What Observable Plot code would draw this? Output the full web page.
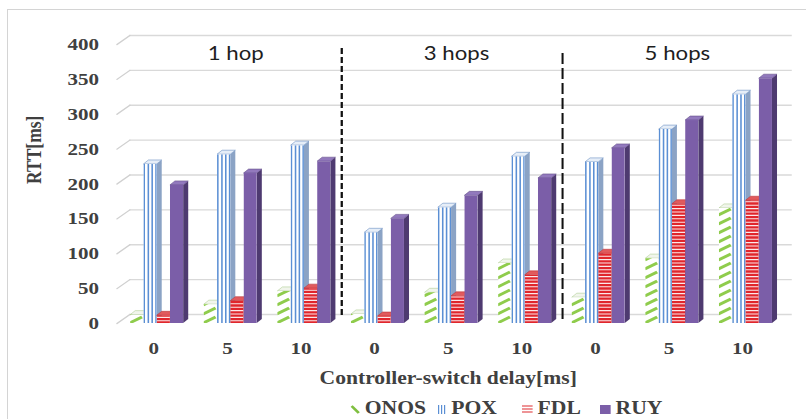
<!DOCTYPE html>
<html>
<head>
<meta charset="utf-8">
<script src="https://cdn.jsdelivr.net/npm/d3@7"></script>
<script src="https://cdn.jsdelivr.net/npm/@observablehq/plot@0.6"></script>
<style>
  html, body { margin: 0; padding: 0; background: #fff; }
  #frame { position: absolute; left: 7px; top: 9px; width: 830px; height: 440px; border: 1px solid #d4d4d4; box-sizing: border-box; }
  /* the whole figure is drawn a little narrow and widened horizontally */
  #chart { position: absolute; left: 0; top: 0; width: 672px; transform: scaleX(1.2); transform-origin: 0 0; }
  #legend { position: relative; height: 27px; font: bold 18px "Liberation Serif", serif; color: #404040; }
  #legend .item { position: absolute; top: 3px; height: 27px; display: flex; align-items: center; white-space: nowrap; }
  #legend .item svg { margin-right: 4px; }
</style>
</head>
<body>
<div id="frame"></div>
<div id="chart"></div>
<script>
// Round-trip time per controller, by hop count and controller-switch delay
const hops = ["1 hop", "3 hops", "5 hops"];
const delays = ["0", "5", "10"];
const series = ["ONOS", "POX", "FDL", "RUY"];
const onos = [12, 27, 46, 13, 44, 86, 37, 93, 165];
const pox  = [228, 242, 255, 130, 166, 239, 231, 278, 328];
const fdl  = [11, 32, 50, 10, 39, 69, 100, 171, 176];
const ruy  = [198, 215, 232, 150, 183, 208, 251, 291, 351];
const yTicks = [0, 50, 100, 150, 200, 250, 300, 350, 400];
const xTitle = "Controller-switch delay[ms]";
const yTitle = "RTT[ms]";

const seriesValues = [onos, pox, fdl, ruy];
const rows = [];
hops.forEach((h, hi) => delays.forEach((d, di) => {
  const cat = hi * delays.length + di;
  series.forEach((s, si) => rows.push({cat, series: si, value: seriesValues[si][cat]}));
}));

// bar geometry (x in category units, depth in pixels)
const barW = 0.18;
const depthX = 4.2, depthY = 4, shift = 2.9;

const looks = [
  { // ONOS: white with green dashes
    front: "#ffffff", side: "#e3eed6", top: "#f1f5ec", topStroke: "#a8c98c",
    stripes(g, a, b, top, base) {
      for (let y = base - 0.5; y > top - 7; y -= 9) {
        g.append("line").attr("x1", a - 0.5).attr("y1", y + 0.5).attr("x2", b - 1.2).attr("y2", y - 5.5)
          .attr("stroke", "#8fcc4c").attr("stroke-width", 2.8);
      }
    }
  },
  { // POX: white with blue vertical lines
    front: "#ffffff", side: "#8ba3c5", top: "#e6eef8", topStroke: "#5e86bd",
    stripes(g, a, b, top, base) {
      const w = b - a;
      for (const t of [0.06, 0.37, 0.66, 0.95]) {
        g.append("line").attr("x1", a + t * w).attr("x2", a + t * w).attr("y1", top).attr("y2", base)
          .attr("stroke", "#5b8fd4").attr("stroke-width", 1.3);
      }
    }
  },
  { // FDL: red with white horizontal lines
    front: "#e0262c", side: "#a5262a", top: "#e15a5d", topStroke: "#b83034",
    stripes(g, a, b, top, base) {
      for (let y = base - 2.2; y > top + 0.5; y -= 3.4) {
        g.append("line").attr("x1", a).attr("x2", b).attr("y1", y).attr("y2", y)
          .attr("stroke", "#ffffff").attr("stroke-opacity", 0.9).attr("stroke-width", 1.1);
      }
    }
  },
  { // RUY: solid purple
    front: "#7b5ea8", side: "#4e3a70", top: "#9279bd", topStroke: "#5e4785",
    stripes() {}
  }
];

// front, side and top faces of each column
function columns3d(index, scales, values) {
  const {x1: X1, x2: X2, y1: Y1, y2: Y2} = values;
  const g = d3.create("svg:g");
  const defs = g.append("defs");
  for (const i of index) {
    const look = looks[rows[i].series];
    const a = X1[i] + shift, b = X2[i] + shift;
    const base = Y1[i], top = Y2[i];
    g.append("polygon")
      .attr("points", [[b, top], [b + depthX, top - depthY], [b + depthX, base - depthY], [b, base]].join(" "))
      .attr("fill", look.side);
    g.append("polygon")
      .attr("points", [[a, top], [a + depthX, top - depthY], [b + depthX, top - depthY], [b, top]].join(" "))
      .attr("fill", look.top).attr("stroke", look.topStroke).attr("stroke-width", 0.5);
    const id = `column-clip-${i}`;
    defs.append("clipPath").attr("id", id).append("rect")
      .attr("x", a).attr("y", top).attr("width", b - a).attr("height", base - top);
    const front = g.append("g").attr("clip-path", `url(#${id})`);
    front.append("rect").attr("x", a).attr("y", top).attr("width", b - a).attr("height", base - top)
      .attr("fill", look.front);
    look.stripes(front, a, b, top, base);
  }
  return g.node();
}

const diagonal = {draw(context, l) { context.moveTo(0, 0); context.lineTo(0, -l); }};

const plot = Plot.plot({
  width: 672,
  height: 392,
  marginLeft: 97,
  marginRight: 23,
  marginTop: 44,
  marginBottom: 69,
  x: {domain: [-0.5, 8.5]},
  y: {domain: [0, 400]},
  style: {fontFamily: "Liberation Serif", fontWeight: "bold", fontSize: "17.5px", color: "#404040", background: "transparent"},
  marks: [
    Plot.ruleY(yTicks, {dx: 10.8, dy: -9, stroke: "#d9d9d9", strokeWidth: 1.3}),
    Plot.vector(yTicks, {y: d => d, frameAnchor: "left", anchor: "start", length: 14, rotate: 50, shape: diagonal, stroke: "#d0d0d0", strokeWidth: 1.3}),
    Plot.ruleX([2.5], {dx: 3.3, insetTop: 4, insetBottom: 8, stroke: "#111", strokeWidth: 1.9, strokeDasharray: "6,3"}),
    Plot.ruleX([5.5], {dx: 3.3, insetTop: 9, insetBottom: 0, stroke: "#111", strokeWidth: 1.7, strokeDasharray: "11,4"}),
    Plot.rectY(rows, {
      x1: d => d.cat - 2 * barW + d.series * barW,
      x2: d => d.cat - 2 * barW + (d.series + 1) * barW,
      y1: 0,
      y2: "value",
      render: columns3d
    }),
    Plot.axisY({ticks: yTicks, tickSize: 0, tickPadding: 15, label: null}),
    Plot.axisX({ticks: d3.range(hops.length * delays.length), tickFormat: i => delays[i % delays.length], tickSize: 0, tickPadding: 18, label: null}),
    Plot.text(hops, {x: (d, i) => i * delays.length + 1, frameAnchor: "top", lineAnchor: "middle", dy: 10, dx: 7, fontFamily: "Lato", fontWeight: "normal", fontSize: 18.5, fill: "#1e1e1e"}),
    Plot.text([xTitle], {frameAnchor: "bottom", lineAnchor: "middle", dy: 55, fontSize: 18}),
    Plot.text([yTitle], {frameAnchor: "left", dx: -69, rotate: -90, fontSize: 17.5})
  ]
});

const chart = document.getElementById("chart");
chart.appendChild(plot);

// legend below the chart
const legendIcons = [
  '<svg width="8" height="12"><line x1="1" y1="3" x2="7" y2="10" stroke="#7fbf3f" stroke-width="2.4"/></svg>',
  '<svg width="8" height="12"><g stroke="#5b8fd4" stroke-width="1"><line x1="1.5" y1="2" x2="1.5" y2="11"/><line x1="4" y1="2" x2="4" y2="11"/><line x1="6.5" y1="2" x2="6.5" y2="11"/></g></svg>',
  '<svg width="9" height="12"><g stroke="#de2a2f" stroke-width="1.2"><line x1="0" y1="3" x2="9" y2="3"/><line x1="0" y1="6" x2="9" y2="6"/><line x1="0" y1="9" x2="9" y2="9"/></g></svg>',
  '<svg width="9" height="12"><rect x="0" y="2" width="9" height="9" fill="#7b5ea8"/></svg>'
];
const legendLeft = [292, 364, 435, 500];
const legend = d3.select(chart).append("div").attr("id", "legend");
series.forEach((s, i) => {
  const item = legend.append("div").attr("class", "item").style("left", legendLeft[i] + "px");
  item.append("span").html(legendIcons[i]).style("display", "flex");
  item.append("span").text(s);
});
</script>
</body>
</html>
